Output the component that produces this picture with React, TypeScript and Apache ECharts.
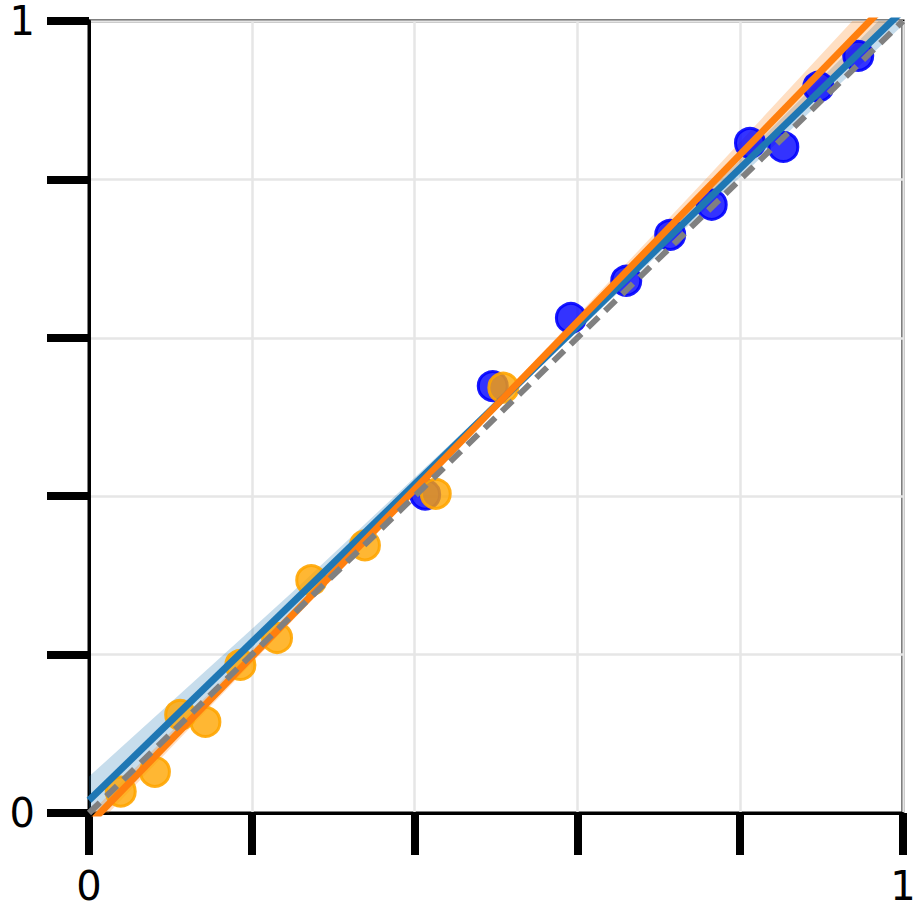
import React, { useEffect, useRef } from "react";
import * as echarts from "echarts";

// Scatter points [x, y]
const orangePoints: number[][] = [
  [0.039, 0.027], [0.081, 0.052], [0.112, 0.124], [0.143, 0.115],
  [0.186, 0.187], [0.231, 0.221], [0.273, 0.294], [0.339, 0.338],
  [0.426, 0.403], [0.509, 0.537],
];
const bluePoints: number[][] = [
  [0.413, 0.402], [0.496, 0.539], [0.592, 0.625], [0.660, 0.672],
  [0.714, 0.730], [0.765, 0.768], [0.812, 0.846], [0.853, 0.841],
  [0.896, 0.917], [0.945, 0.956],
];
// Fit lines (endpoints)
const blueFit: number[][] = [[0, 0.016], [1, 1.0135]];
const orangeFit: number[][] = [[0, -0.0143], [1, 1.043]];
const identityLine: number[][] = [[0, 0], [1, 1]];
// Confidence bands
const bandX = [0, 0.25, 0.5, 0.75, 1];
const blueLo = [-0.012, 0.253, 0.510, 0.755, 0.995];
const blueHi = [0.046, 0.279, 0.520, 0.773, 1.031];
const orangeLo = [-0.026, 0.243, 0.509, 0.766, 1.019];
const orangeHi = [-0.002, 0.257, 0.519, 0.792, 1.069];
// Tick labels
const tickLabels: Record<string, string> = { "0": "0", "1": "1" };

function bandSeries(lo: number[], hi: number[], color: string, z: number) {
  const data = bandX.map((x, i) => [x, lo[i], hi[i]]);
  return {
    type: "custom",
    clip: true,
    z,
    silent: true,
    data,
    encode: { x: 0, y: [1, 2] },
    renderItem: (params: any, api: any) => {
      if (params.dataIndex !== 0) return null;
      const upper = bandX.map((x, i) => api.coord([x, hi[i]]));
      const lower = bandX.map((x, i) => api.coord([x, lo[i]])).reverse();
      return {
        type: "polygon",
        shape: { points: upper.concat(lower) },
        style: { fill: color },
      };
    },
  };
}

export default function App() {
  const ref = useRef<HTMLDivElement>(null);
  useEffect(() => {
    document.body.style.margin = "0";
    const chart = echarts.init(ref.current!, undefined, { renderer: "svg" });
    const labelStyle = {
      fontSize: 40,
      lineHeight: 38,
      color: "#000",
      fontFamily: "DejaVu Sans",
      formatter: (v: number) => tickLabels[String(v)] ?? "",
    };
    chart.setOption({
      animation: false,
      grid: {
        left: 89,
        right: 18,
        top: 21,
        bottom: 103,
        show: true,
        borderColor: "#000",
        borderWidth: 3,
      },
      xAxis: {
        type: "value",
        min: 0,
        max: 1,
        interval: 0.2,
        axisLine: { show: true, lineStyle: { color: "#000", width: 3 } },
        axisTick: { show: true, inside: false, length: 42, lineStyle: { color: "#000", width: 8 } },
        splitLine: { show: true, lineStyle: { color: "#e6e6e6", width: 2.5 } },
        axisLabel: { ...labelStyle, margin: 54, showMinLabel: true, showMaxLabel: true },
      },
      yAxis: {
        type: "value",
        min: 0,
        max: 1,
        interval: 0.2,
        axisLine: { show: true, lineStyle: { color: "#000", width: 3 } },
        axisTick: { show: true, inside: false, length: 42, lineStyle: { color: "#000", width: 8 } },
        splitLine: { show: true, lineStyle: { color: "#e6e6e6", width: 2.5 } },
        axisLabel: { ...labelStyle, margin: 54, showMinLabel: true, showMaxLabel: true },
      },
      series: [
        bandSeries(blueLo, blueHi, "rgba(31,119,180,0.25)", 1),
        bandSeries(orangeLo, orangeHi, "rgba(255,127,14,0.25)", 1),
        {
          type: "scatter",
          data: bluePoints,
          symbolSize: 29,
          z: 2,
          itemStyle: { opacity: 1, color: "rgba(0,0,255,0.8)", borderColor: "rgba(0,0,255,0.9)", borderWidth: 3 },
        },
        {
          type: "scatter",
          data: orangePoints,
          symbolSize: 29,
          z: 2,
          itemStyle: { opacity: 1, color: "rgba(255,165,0,0.8)", borderColor: "rgba(255,165,0,0.9)", borderWidth: 3 },
        },
        {
          type: "line",
          data: blueFit,
          showSymbol: false,
          z: 3,
          lineStyle: { color: "#1f77b4", width: 7 },
        },
        {
          type: "line",
          data: orangeFit,
          showSymbol: false,
          z: 4,
          lineStyle: { color: "#ff7f0e", width: 7 },
        },
        {
          type: "line",
          data: identityLine,
          showSymbol: false,
          z: 5,
          lineStyle: { color: "#808080", width: 6, type: [15, 9] },
        },
      ],
    });
    return () => chart.dispose();
  }, []);
  return <div ref={ref} style={{ width: 921, height: 916 }} />;
}
